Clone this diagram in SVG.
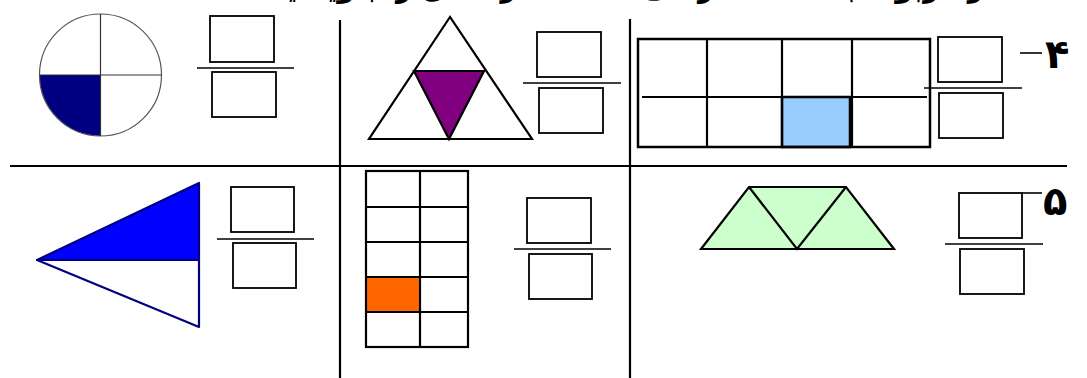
<svg xmlns="http://www.w3.org/2000/svg" width="1087" height="378" viewBox="0 0 1087 378">
<style>
.box{fill:#fff;stroke:#000;stroke-width:1.8}
.bar{stroke:#000;stroke-width:1.6}
.grid{stroke:#000;stroke-width:2.2}
.shape{stroke:#000;stroke-width:2.2;stroke-linejoin:miter}
.num{font-family:"DejaVu Sans",sans-serif;font-weight:bold;font-size:40px;fill:#000}
.title{font-family:"DejaVu Sans",sans-serif;font-weight:bold;font-size:30px;fill:#000}
</style>
<rect width="1087" height="378" fill="#fff"/>
<text x="1030" y="-3" direction="rtl" class="title" textLength="770" lengthAdjust="spacingAndGlyphs">کسر مربوط به قسمت رنگی شده‌ی هر شکل را بنویسید.</text>
<g id="dividers">
<line class="grid" x1="10" y1="166" x2="1067" y2="166"/>
<line class="grid" x1="340" y1="20" x2="340" y2="378"/>
<line class="grid" x1="630" y1="19" x2="630" y2="378"/>
</g>
<g id="circle">
<path d="M100.5,75 L39.5,75 A61,61 0 0 0 100.5,136 Z" fill="#000080"/>
<circle cx="100.5" cy="75" r="61" fill="none" stroke="#555" stroke-width="1.2"/>
<line x1="100.5" y1="14" x2="100.5" y2="136" stroke="#333" stroke-width="1.2"/>
<line x1="39.5" y1="75" x2="161.5" y2="75" stroke="#333" stroke-width="1.2"/>
</g>
<g id="frac1">
<rect class="box" x="210" y="16" width="64" height="46"/>
<line class="bar" x1="197" y1="68" x2="294" y2="68"/>
<rect class="box" x="212" y="72" width="64" height="45"/>
</g>
<g id="triangle">
<polygon class="shape" points="450,17 369,139 532,139" fill="#fff"/>
<polygon class="shape" points="414,71 484,71 449,139" fill="#800080"/>
</g>
<g id="frac2">
<rect class="box" x="537" y="32" width="64" height="45"/>
<line class="bar" x1="523" y1="83" x2="621" y2="83"/>
<rect class="box" x="539" y="88" width="64" height="45"/>
</g>
<g id="rectgrid">
<rect x="782" y="97" width="68" height="50" fill="#99CCFF"/>
<rect x="638" y="39" width="292" height="108" fill="none" stroke="#000" stroke-width="2.5"/>
<line class="grid" x1="707" y1="39" x2="707" y2="147"/>
<line class="grid" x1="782" y1="39" x2="782" y2="147"/>
<line class="grid" x1="852" y1="39" x2="852" y2="147"/>
<line class="grid" x1="642" y1="97" x2="927" y2="97"/>
<rect x="782" y="97" width="68" height="50" fill="none" stroke="#000" stroke-width="2.5"/>
</g>
<g id="frac3">
<rect class="box" x="938" y="37" width="64" height="45"/>
<line class="bar" x1="924" y1="88" x2="1022" y2="88"/>
<rect class="box" x="939" y="93" width="64" height="45"/>
</g>
<g id="label4">
<line x1="1020" y1="53" x2="1042" y2="53" stroke="#000" stroke-width="1.6"/>
<text class="num" x="1045" y="68">۴</text>
</g>
<g id="kite">
<polygon points="37,260 199,183 199,260" fill="#0000FF" stroke="#000080" stroke-width="2.2" stroke-linejoin="round"/>
<polygon points="37,260 199,260 199,327" fill="#fff" stroke="#000080" stroke-width="2.2" stroke-linejoin="round"/>
</g>
<g id="frac4">
<rect class="box" x="231" y="187" width="63" height="45"/>
<line class="bar" x1="217" y1="239" x2="314" y2="239"/>
<rect class="box" x="233" y="243" width="63" height="45"/>
</g>
<g id="tallgrid">
<rect x="366" y="277" width="54" height="35" fill="#FF6600"/>
<rect x="366" y="171" width="102" height="176" fill="none" stroke="#000" stroke-width="2.2"/>
<line class="grid" x1="420" y1="171" x2="420" y2="347"/>
<line class="grid" x1="366" y1="207" x2="468" y2="207"/>
<line class="grid" x1="366" y1="242" x2="468" y2="242"/>
<line class="grid" x1="366" y1="277" x2="468" y2="277"/>
<line class="grid" x1="366" y1="312" x2="468" y2="312"/>
</g>
<g id="frac5">
<rect class="box" x="527" y="198" width="64" height="45"/>
<line class="bar" x1="514" y1="249" x2="611" y2="249"/>
<rect class="box" x="529" y="254" width="63" height="45"/>
</g>
<g id="trapezoid">
<polygon class="shape" points="701,249 749,187 846,187 894,249" fill="#CCFFCC"/>
<polyline class="shape" points="749,187 797,249 846,187" fill="none"/>
</g>
<g id="frac6">
<rect class="box" x="959" y="193" width="63" height="45"/>
<line class="bar" x1="945" y1="244" x2="1043" y2="244"/>
<rect class="box" x="960" y="249" width="64" height="45"/>
</g>
<g id="label5">
<line x1="1022" y1="193" x2="1042" y2="193" stroke="#000" stroke-width="1.6"/>
<text class="num" x="1043" y="215">۵</text>
</g>
</svg>
